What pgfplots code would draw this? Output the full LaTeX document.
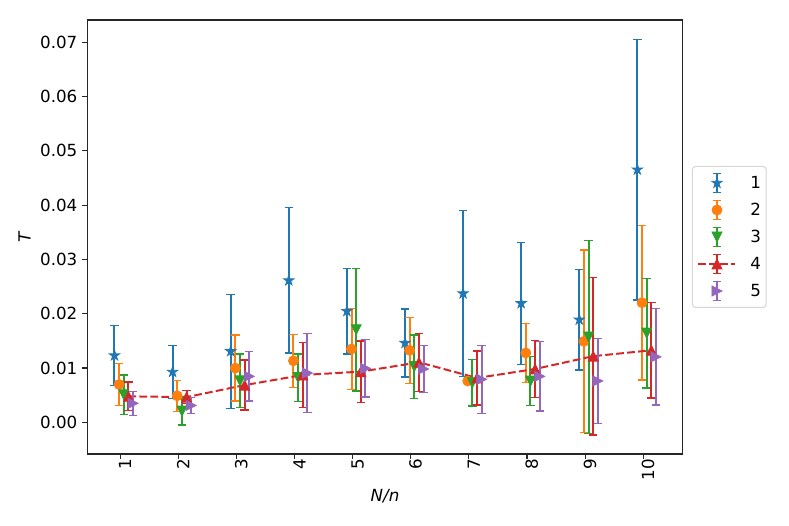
\documentclass[border=0pt]{standalone}
\usepackage{pgfplots}
\pgfplotsset{compat=1.18}
\usepackage{pgfplotstable}
\usepackage{fontspec}
\setmainfont{DejaVu Sans}
\newcommand{\fs}{\fontsize{16.7}{20}\selectfont}
\definecolor{c1}{HTML}{1F77B4}
\definecolor{c2}{HTML}{FF7F0E}
\definecolor{c3}{HTML}{2CA02C}
\definecolor{c4}{HTML}{D62728}
\definecolor{c5}{HTML}{9467BD}
\definecolor{legframe}{RGB}{214,214,214}

\pgfdeclareplotmark{mplstar}{%
  \pgfpathmoveto{\pgfpointpolar{90}{\pgfplotmarksize}}%
  \pgfpathlineto{\pgfpointpolar{126}{0.382\pgfplotmarksize}}%
  \pgfpathlineto{\pgfpointpolar{162}{\pgfplotmarksize}}%
  \pgfpathlineto{\pgfpointpolar{198}{0.382\pgfplotmarksize}}%
  \pgfpathlineto{\pgfpointpolar{234}{\pgfplotmarksize}}%
  \pgfpathlineto{\pgfpointpolar{270}{0.382\pgfplotmarksize}}%
  \pgfpathlineto{\pgfpointpolar{306}{\pgfplotmarksize}}%
  \pgfpathlineto{\pgfpointpolar{342}{0.382\pgfplotmarksize}}%
  \pgfpathlineto{\pgfpointpolar{18}{\pgfplotmarksize}}%
  \pgfpathlineto{\pgfpointpolar{54}{0.382\pgfplotmarksize}}%
  \pgfpathclose\pgfusepathqfillstroke}
\pgfdeclareplotmark{mpltriup}{%
  \pgfpathmoveto{\pgfqpoint{0pt}{\pgfplotmarksize}}%
  \pgfpathlineto{\pgfqpoint{-\pgfplotmarksize}{-\pgfplotmarksize}}%
  \pgfpathlineto{\pgfqpoint{\pgfplotmarksize}{-\pgfplotmarksize}}%
  \pgfpathclose\pgfusepathqfillstroke}
\pgfdeclareplotmark{mpltridown}{%
  \pgfpathmoveto{\pgfqpoint{0pt}{-\pgfplotmarksize}}%
  \pgfpathlineto{\pgfqpoint{-\pgfplotmarksize}{\pgfplotmarksize}}%
  \pgfpathlineto{\pgfqpoint{\pgfplotmarksize}{\pgfplotmarksize}}%
  \pgfpathclose\pgfusepathqfillstroke}
\pgfdeclareplotmark{mpltriright}{%
  \pgfpathmoveto{\pgfqpoint{\pgfplotmarksize}{0pt}}%
  \pgfpathlineto{\pgfqpoint{-\pgfplotmarksize}{\pgfplotmarksize}}%
  \pgfpathlineto{\pgfqpoint{-\pgfplotmarksize}{-\pgfplotmarksize}}%
  \pgfpathclose\pgfusepathqfillstroke}

\pgfplotstableread{
x y e
0.90 0.01230 0.00550
1.90 0.00927 0.00485
2.90 0.01308 0.01050
3.90 0.02612 0.01340
4.90 0.02047 0.00790
5.90 0.01460 0.00627
6.90 0.02372 0.01525
7.90 0.02192 0.01124
8.90 0.01890 0.00928
9.90 0.04653 0.02400
}\sA
\pgfplotstableread{
x y e
0.98 0.00697 0.00390
1.98 0.00488 0.00285
2.98 0.00998 0.00610
3.98 0.01133 0.00488
4.98 0.01350 0.00742
5.98 0.01326 0.00608
6.98 0.00760 0.00050
7.98 0.01277 0.00540
8.98 0.01491 0.01682
9.98 0.02204 0.01425
}\sB
\pgfplotstableread{
x y e
1.06 0.00509 0.00362
2.06 0.00206 0.00260
3.06 0.00764 0.00495
4.06 0.00823 0.00436
5.06 0.01706 0.01130
6.06 0.01025 0.00583
7.06 0.00730 0.00430
8.06 0.00760 0.00448
9.06 0.01571 0.01774
10.06 0.01642 0.01010
}\sC
\pgfplotstableread{
x y e
1.14 0.00478 0.00264
2.14 0.00463 0.00120
3.14 0.00685 0.00458
4.14 0.00871 0.00595
5.14 0.00933 0.00565
6.14 0.01105 0.00534
7.14 0.00816 0.00497
8.14 0.00982 0.00529
9.14 0.01218 0.01452
10.14 0.01326 0.00878
}\sD
\pgfplotstableread{
x y e
1.22 0.00350 0.00221
2.22 0.00310 0.00144
3.22 0.00846 0.00454
4.22 0.00908 0.00724
5.22 0.00994 0.00528
6.22 0.00982 0.00430
7.22 0.00792 0.00626
8.22 0.00846 0.00638
9.22 0.00761 0.00779
10.22 0.01206 0.00887
}\sE

\pgfplotsset{
  ebar/.style={error bars/.cd, y dir=both, y explicit,
    error bar style={line width=2pt, solid},
    error mark options={rotate=90, line width=1.5pt, mark size=4.2pt, solid}},
  ebleg/.style={legend image code/.code={%
    \path[draw=none, fill=none] (0pt,-10pt) (37pt,10pt);
    \draw[##1, solid, mark=none, line width=2pt, rounded corners=0pt] (18.5pt,-9.5pt) -- (18.5pt,9.5pt);
    \draw[##1, solid, mark=none, line width=1.5pt, rounded corners=0pt] (14.3pt,-9.5pt) -- (22.7pt,-9.5pt) (14.3pt,9.5pt) -- (22.7pt,9.5pt);
    \draw[##1, solid, rounded corners=0pt] plot coordinates {(18.5pt,0pt)};}},
  eblegline/.style={legend image code/.code={%
    \path[draw=none, fill=none] (0pt,-10pt) (37pt,10pt);
    \draw[##1, mark=none, rounded corners=0pt] (0pt,0pt) -- (37pt,0pt);
    \draw[##1, solid, mark=none, line width=2pt, rounded corners=0pt] (18.5pt,-9.5pt) -- (18.5pt,9.5pt);
    \draw[##1, solid, mark=none, line width=1.5pt, rounded corners=0pt] (14.3pt,-9.5pt) -- (22.7pt,-9.5pt) (14.3pt,9.5pt) -- (22.7pt,9.5pt);
    \draw[##1, solid, only marks, rounded corners=0pt] plot coordinates {(18.5pt,0pt)};}},
}

\begin{document}
\begin{tikzpicture}[x=1pt,y=1pt]
\path[use as bounding box] (0,0) rectangle (789,526);
\begin{axis}[
  at={(87.3pt,72pt)}, anchor=south west,
  scale only axis, width=595.4pt, height=434pt,
  xmin=0.432, xmax=10.68, ymin=-0.00584, ymax=0.0741,
  xtick={1,2,3,4,5,6,7,8,9,10},
  xticklabels={1,2,3,4,5,6,7,8,9,10},
  ytick={0,0.01,0.02,0.03,0.04,0.05,0.06,0.07},
  yticklabels={0.00,0.01,0.02,0.03,0.04,0.05,0.06,0.07},
  scaled ticks=false,
  /pgf/number format/assume math mode=true,
  tick align=outside, tick pos=left,
  major tick length=4.86pt,
  axis line style={line width=1.1pt, black!85},
  tick style={line width=1.1pt, black!85},
  every tick label/.append style={font=\fs},
  yticklabel style={anchor=east, inner sep=0pt, xshift=-4.86pt},
  xticklabel style={rotate=90, anchor=east, inner sep=0pt, yshift=-4.86pt},
  xlabel={\textit{N/n}}, ylabel={\textit{T}},
  label style={font=\fs},
  xlabel style={at={(axis description cs:0.5,-0.0806)}, anchor=north, inner sep=0pt},
  ylabel style={at={(axis description cs:-0.095,0.5)}, anchor=south, inner sep=0pt, rotate=0},
  legend style={at={(axis description cs:1.0156,0.5)}, anchor=west,
    font=\fs, draw=legframe, line width=1pt, rounded corners=3pt,
    inner xsep=5pt, inner ysep=6pt,
    nodes={inner sep=0pt, text height=11.7pt, text depth=0pt},
    column sep=14pt, row sep=6pt},
  legend cell align=left,
  clip=false,
]
\addplot[c1, only marks, mark=mplstar, mark size=5.4pt, mark options={solid, line width=0.8pt}, ebleg, ebar]
  table[x=x, y=y, y error=e]{\sA};
\addlegendentry{1}
\addplot[c2, only marks, mark=*, mark size=5pt, mark options={solid, line width=0.8pt}, ebleg, ebar]
  table[x=x, y=y, y error=e]{\sB};
\addlegendentry{2}
\addplot[c3, only marks, mark=mpltridown, mark size=5pt, mark options={solid, line width=0.8pt}, ebleg, ebar]
  table[x=x, y=y, y error=e]{\sC};
\addlegendentry{3}
\addplot[c4, line width=2pt, dash pattern=on 7.7pt off 3.3pt, mark=mpltriup, mark size=5pt, mark options={solid, line width=0.8pt}, eblegline, ebar]
  table[x=x, y=y, y error=e]{\sD};
\addlegendentry{4}
\addplot[c5, only marks, mark=mpltriright, mark size=5pt, mark options={solid, line width=0.8pt}, ebleg, ebar]
  table[x=x, y=y, y error=e]{\sE};
\addlegendentry{5}
\end{axis}
\end{tikzpicture}
\end{document}
